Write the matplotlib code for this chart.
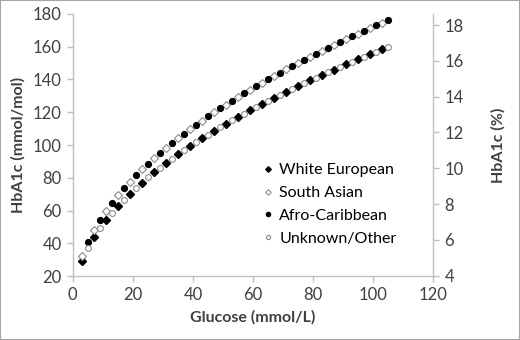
import matplotlib
matplotlib.use("Agg")
import matplotlib.pyplot as plt
from matplotlib.lines import Line2D

plt.rcParams['font.family'] = ['Lato', 'DejaVu Sans']

# glucose (mmol/L) for each group
glu_we = [3, 7, 11, 15, 19, 23, 27, 31, 35, 39, 43, 47, 51, 55, 59, 63, 67, 71, 75, 79, 83, 87, 91, 95, 99, 103]
glu_sa = [3, 7, 11, 15, 19, 23, 27, 31, 35, 39, 43, 47, 51, 55, 59, 63, 67, 71, 75, 79, 83, 87, 91, 95, 99, 103]
glu_ac = [5, 9, 13, 17, 21, 25, 29, 33, 37, 41, 45, 49, 53, 57, 61, 65, 69, 73, 77, 81, 85, 89, 93, 97, 101, 105]
glu_uo = [5, 9, 13, 17, 21, 25, 29, 33, 37, 41, 45, 49, 53, 57, 61, 65, 69, 73, 77, 81, 85, 89, 93, 97, 101, 105]

# HbA1c (mmol/mol)
hba_we = [29.0, 43.6, 54.0, 62.8, 70.3, 77.1, 83.3, 89.0, 94.3, 99.3, 104.1, 108.6, 113.0,
          117.2, 121.2, 125.0, 128.8, 132.4, 136.0, 139.4, 142.7, 146.0, 149.2, 152.3, 155.3, 158.3]
hba_sa = [32.1, 48.2, 59.8, 69.4, 77.7, 85.2, 92.0, 98.3, 104.1, 109.7, 114.9, 119.9, 124.7,
          129.3, 133.7, 138.0, 142.1, 146.1, 150.0, 153.8, 157.5, 161.1, 164.6, 168.0, 171.4, 174.6]
hba_ac = [41.0, 54.5, 64.8, 73.7, 81.5, 88.6, 95.2, 101.2, 106.9, 112.3, 117.5, 122.3, 127.0,
          131.5, 135.9, 140.1, 144.1, 148.1, 151.9, 155.7, 159.3, 162.8, 166.3, 169.7, 173.0, 176.3]
hba_uo = [37.1, 49.1, 58.6, 66.7, 73.8, 80.2, 86.2, 91.7, 96.9, 101.7, 106.4, 110.8, 115.1,
          119.2, 123.1, 126.9, 130.6, 134.2, 137.7, 141.1, 144.4, 147.6, 150.7, 153.8, 156.8, 159.8]

groups = ['White European', 'South Asian', 'Afro-Caribbean', 'Unknown/Other']

grey = '#BFBFBF'
txt = '#404040'
open_edge = '#8C8C8C'

fig = plt.figure(figsize=(5.2, 3.4), dpi=100)
fig.patches.append(plt.Rectangle((0, 0), 1, 1, transform=fig.transFigure,
                                 fill=False, edgecolor='#A6A6A6', linewidth=1.5))
ax = fig.add_axes([0.140, 0.188, 0.693, 0.771])

ax.plot(glu_we, hba_we, linestyle='none', marker='D', ms=3.6, mfc='black', mec='black', zorder=3)
ax.plot(glu_sa, hba_sa, linestyle='none', marker='D', ms=3.6, mfc='white', mec=open_edge, mew=0.8, zorder=3)
ax.plot(glu_ac, hba_ac, linestyle='none', marker='o', ms=4.2, mfc='black', mec='black', zorder=3)
ax.plot(glu_uo, hba_uo, linestyle='none', marker='o', ms=4.2, mfc='white', mec=open_edge, mew=0.8, zorder=3)

ax.set_xlim(0, 120)
ax.set_ylim(20, 180)
ax.set_xticks(range(0, 121, 20))
ax.set_yticks(range(20, 181, 20))

# right axis: same scale expressed in %
ax2 = ax.twinx()
ax2.set_ylim(20 / 10.929 + 2.15, 180 / 10.929 + 2.15)
ax2.set_yticks(range(4, 19, 2))

for a in (ax, ax2):
    for s in a.spines.values():
        s.set_color(grey)
        s.set_linewidth(1.0)
    a.spines['top'].set_visible(False)
    a.tick_params(colors=grey, labelcolor=txt, labelsize=12, length=4, width=1, pad=4)
ax.spines['right'].set_visible(False)
ax2.spines['left'].set_visible(False)
ax2.spines['bottom'].set_visible(False)

ax.set_xlabel('Glucose (mmol/L)', fontsize=11.5, fontweight='bold', color=txt, labelpad=5)
ax.set_ylabel('HbA1c (mmol/mol)', fontsize=11.5, fontweight='bold', color=txt, labelpad=5)
ax2.set_ylabel('HbA1c (%)', fontsize=11.5, fontweight='bold', color=txt, labelpad=20)

handles = [
    Line2D([], [], linestyle='none', marker='D', ms=2.8, mfc='black', mec='black'),
    Line2D([], [], linestyle='none', marker='D', ms=2.8, mfc='white', mec=open_edge, mew=0.8),
    Line2D([], [], linestyle='none', marker='o', ms=3.0, mfc='black', mec='black'),
    Line2D([], [], linestyle='none', marker='o', ms=3.0, mfc='white', mec=open_edge, mew=0.8),
]
leg = ax.legend(handles, groups, loc='center left', bbox_to_anchor=(0.529, 0.273),
                frameon=False, fontsize=11.5, handlelength=0.6, handletextpad=0.4,
                labelspacing=0.55, borderpad=0, borderaxespad=0)
for t in leg.get_texts():
    t.set_color('black')

fig.savefig('out.png', dpi=100)
